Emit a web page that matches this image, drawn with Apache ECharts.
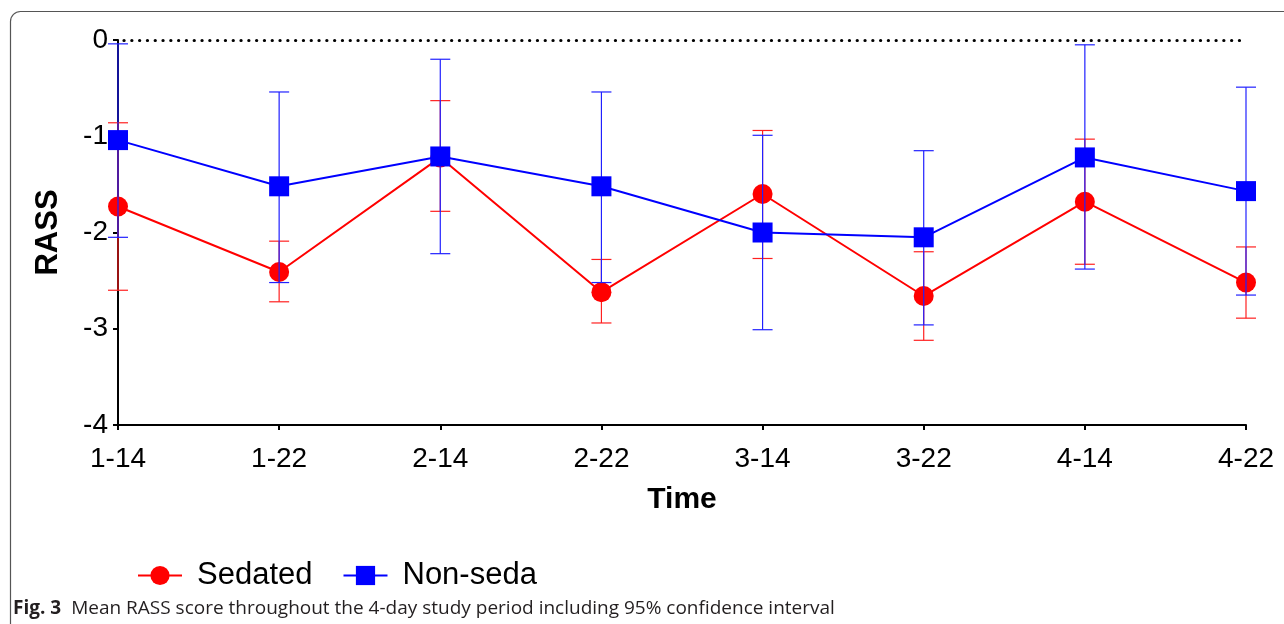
<!DOCTYPE html>
<html>
<head>
<meta charset="utf-8">
<style>
  html, body { margin: 0; padding: 0; background: #fff; }
  #chart { width: 1284px; height: 624px; }
</style>
<script src="https://cdn.jsdelivr.net/npm/echarts@6/dist/echarts.min.js"></script>
</head>
<body>
<div id="chart"></div>
<script>
// time points (day-hour)
var categories = ['1-14', '1-22', '2-14', '2-22', '3-14', '3-22', '4-14', '4-22'];

// Sedated: mean and 95% CI
var sedatedMean = [-1.73, -2.41, -1.22, -2.62, -1.60, -2.66, -1.68, -2.52];
var sedatedLow  = [-2.60, -2.72, -1.78, -2.94, -2.27, -3.12, -2.33, -2.89];
var sedatedHigh = [-0.86, -2.09, -0.63, -2.28, -0.94, -2.20, -1.03, -2.15];

// Non-seda: mean and 95% CI
var nonSedaMean = [-1.04, -1.52, -1.21, -1.52, -2.00, -2.05, -1.22, -1.57];
var nonSedaLow  = [-2.05, -2.52, -2.22, -2.52, -3.01, -2.96, -2.38, -2.65];
var nonSedaHigh = [-0.04, -0.54, -0.20, -0.54, -0.99, -1.15, -0.05, -0.49];

var chart = echarts.init(document.getElementById('chart'));

function errorData(low, high) {
    var out = [];
    for (var i = 0; i < categories.length; i++) {
        out.push([i, low[i], high[i]]);
    }
    return out;
}

function errorBars(color) {
    return function (params, api) {
        var lo = api.coord([api.value(0), api.value(1)]);
        var hi = api.coord([api.value(0), api.value(2)]);
        var w = 10;
        var st = { stroke: color, lineWidth: 1.2 };
        return {
            type: 'group',
            children: [
                { type: 'line', shape: { x1: hi[0], y1: hi[1], x2: lo[0], y2: lo[1] }, style: st },
                { type: 'line', shape: { x1: hi[0] - w, y1: hi[1], x2: hi[0] + w, y2: hi[1] }, style: st },
                { type: 'line', shape: { x1: lo[0] - w, y1: lo[1], x2: lo[0] + w, y2: lo[1] }, style: st }
            ]
        };
    };
}

var font = 'Liberation Sans, Arial, sans-serif';

option = {
    animation: false,
    backgroundColor: '#fff',
    graphic: [
        {
            type: 'rect',
            shape: { x: 10.5, y: 11.5, width: 1300, height: 640, r: 10 },
            style: { fill: 'none', stroke: '#555', lineWidth: 1.2 },
            z: -1
        }
    ],
    title: {
        left: 8,
        top: 594,
        text: '{b|Fig. 3}  {n|Mean RASS score throughout the 4-day study period including 95% confidence interval}',
        textStyle: {
            rich: {
                b: { fontFamily: 'Open Sans', fontWeight: 'bold', fontSize: 19, color: '#231f20' },
                n: { fontFamily: 'Open Sans', fontSize: 19, color: '#231f20', fontWeight: 'normal' }
            }
        }
    },
    legend: {
        left: 132,
        top: 555,
        itemWidth: 44,
        itemHeight: 24,
        itemGap: 30,
        textStyle: { fontFamily: font, fontSize: 31, color: '#000', padding: [0, 0, 0, 10] },
        data: ['Sedated', 'Non-seda']
    },
    grid: { left: 118, right: 38, top: 40, bottom: 199 },
    xAxis: {
        type: 'category',
        data: categories,
        boundaryGap: false,
        name: 'Time',
        nameLocation: 'middle',
        nameGap: 60,
        nameTextStyle: { fontFamily: font, fontWeight: 'bold', fontSize: 30, color: '#000' },
        axisLine: { onZero: false, lineStyle: { color: '#000', width: 2 } },
        axisTick: { show: true, inside: false, length: 5, lineStyle: { color: '#000', width: 2 } },
        axisLabel: { fontFamily: font, fontSize: 28, color: '#000', margin: 20 },
        splitLine: { show: false }
    },
    yAxis: {
        type: 'value',
        min: -4,
        max: 0,
        interval: 1,
        name: 'RASS',
        nameLocation: 'middle',
        nameGap: 54,
        nameTextStyle: { fontFamily: font, fontWeight: 'bold', fontSize: 31, color: '#000' },
        axisLine: { show: true, onZero: false, lineStyle: { color: '#000', width: 2 } },
        axisTick: { show: true, inside: false, length: 5, lineStyle: { color: '#000', width: 2 } },
        axisLabel: { fontFamily: font, fontSize: 28, color: '#000', margin: 10 },
        splitLine: { show: false }
    },
    series: [
        {
            name: 'Sedated CI',
            type: 'custom',
            renderItem: errorBars('#ff2020'),
            data: errorData(sedatedLow, sedatedHigh),
            encode: { x: 0, y: [1, 2] },
            clip: false,
            z: 2
        },
        {
            name: 'Sedated',
            type: 'line',
            data: sedatedMean,
            symbol: 'circle',
            symbolSize: 20,
            itemStyle: { color: '#ff0000' },
            lineStyle: { color: '#ff0000', width: 2 },
            z: 3,
            markLine: {
                silent: true,
                symbol: 'none',
                label: { show: false },
                lineStyle: { color: '#000', type: [0.1, 7.7], width: 3.2, cap: 'round' },
                data: [[{ coord: [0, 0], x: 124 }, { coord: [7, 0], x: 1240 }]]
            }
        },
        {
            name: 'Non-seda CI',
            type: 'custom',
            renderItem: errorBars('#2020ff'),
            data: errorData(nonSedaLow, nonSedaHigh),
            encode: { x: 0, y: [1, 2] },
            clip: false,
            z: 4
        },
        {
            name: 'Non-seda',
            type: 'line',
            data: nonSedaMean,
            symbol: 'rect',
            symbolSize: 20,
            itemStyle: { color: '#0000ff' },
            lineStyle: { color: '#0000ff', width: 2 },
            z: 5
        }
    ]
};

chart.setOption(option);
</script>
</body>
</html>
